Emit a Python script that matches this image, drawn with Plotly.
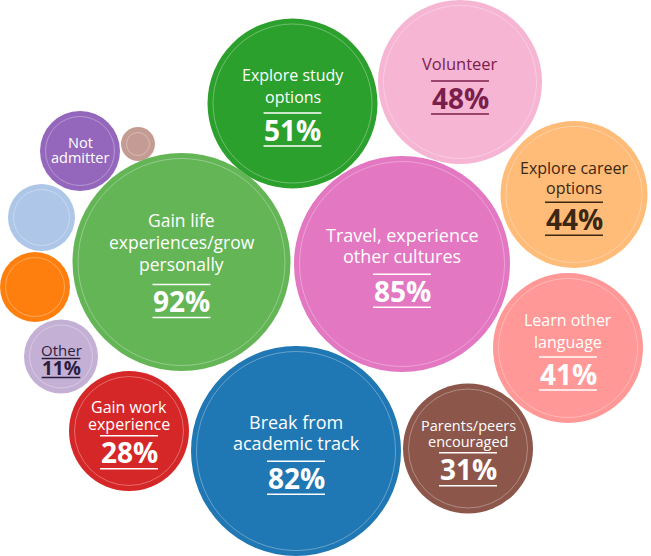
import plotly.graph_objects as go

# ---- data ----
labels = ["Explore study<br>options", "Volunteer", "Not<br>admitter", "",
          "Gain life<br>experiences/grow<br>personally",
          "Travel, experience<br>other cultures", "Explore career<br>options",
          "", "", "Other", "Learn other<br>language", "Gain work<br>experience",
          "Break from<br>academic track", "Parents/peers<br>encouraged"]
values = [51, 48, None, None, 92, 85, 44, None, None, 11, 41, 28, 82, 31]

# ---- bubble layout (pixel space) ----
bx = [292.5, 460, 80, 138, 181.5, 402, 574, 41.5, 35, 61, 568, 129, 296, 468]
by = [103.5, 82, 151, 144, 262, 264, 194.5, 217.5, 287, 356.5, 348, 431, 451, 448.5]
br = [85, 82, 40, 17, 109, 108, 73.5, 33.5, 35, 37, 75, 60, 105, 65]

# ---- styles ----
fills = ["#2ca02c", "#f6b5d3", "#9467bd", "#c49c94", "#63b556", "#e377c2", "#ffbb78",
         "#aec7e8", "#ff7f0e", "#c5b0d5", "#ff9896", "#d62728", "#1f77b4", "#8c564b"]
tcol = ["white", "#7a1e4b", "white", "white", "white", "white", "#3b2712",
        "white", "white", "#2b1d3d", "white", "white", "white", "white"]
fs = [16, 16.5, 14.5, 14, 17.5, 18, 16, 14, 14, 15, 16, 16, 18, 14.5]
lh = [22, 22, 15.7, 16, 22, 21.5, 19.7, 16, 16, 16, 22, 16.3, 21.6, 16]
gap = [16, 17, 0, 0, 20, 18, 14.6, 0, 0, 9, 15, 12, 18, 11.7]
pfs = [28, 28, 28, 28, 28, 28, 28, 28, 28, 19, 28, 28, 28, 28]
FONT = "Open Sans"

fig = go.Figure()
fig.add_trace(go.Scatter(
    x=bx, y=by, mode="markers", hoverinfo="skip",
    marker=dict(size=[2 * r for r in br], color=fills, opacity=1,
                line=dict(width=0), sizemode="diameter")))
fig.add_trace(go.Scatter(
    x=bx, y=by, mode="markers", hoverinfo="skip",
    marker=dict(size=[2 * r - 11 for r in br], color="rgba(0,0,0,0)",
                line=dict(width=1, color="rgba(255,255,255,0.45)"))))

annotations = []
shapes = []
for i in range(len(bx)):
    lines = labels[i].split("<br>") if labels[i] else []
    v = values[i]
    if not lines and v is None:
        continue
    nl = len(lines)
    pg = pfs[i] * 0.59 if pfs[i] >= 28 else pfs[i] * 0.5
    if v is not None:
        total = (nl - 1) * lh[i] + gap[i] + 2 * pg
        y0 = by[i] + 7 - total / 2
    else:
        total = (nl - 1) * lh[i]
        y0 = by[i] - 1 - total / 2
    for k, t in enumerate(lines):
        annotations.append(dict(x=bx[i], y=y0 + k * lh[i], text=t, showarrow=False,
                                xanchor="center", yanchor="middle",
                                font=dict(family=FONT, size=fs[i], color=tcol[i])))
    if v is not None:
        ytop = y0 + (nl - 1) * lh[i] + gap[i]
        ypct = ytop + pg
        ybot = ypct + pg
        hw = pfs[i] * 1.07 - 1
        for yy in (ytop, ybot):
            shapes.append(dict(type="line", xref="x", yref="y",
                               x0=bx[i] - hw, x1=bx[i] + hw, y0=yy, y1=yy,
                               line=dict(color=tcol[i], width=1.5)))
        annotations.append(dict(x=bx[i], y=ypct, text="<b>%d%%</b>" % v, showarrow=False,
                                xanchor="center", yanchor="middle",
                                font=dict(family=FONT, size=pfs[i], color=tcol[i])))

fig.update_layout(
    width=651, height=556, autosize=False,
    margin=dict(l=0, r=0, t=0, b=0),
    paper_bgcolor="white", plot_bgcolor="white",
    showlegend=False,
    xaxis=dict(range=[0, 651], visible=False, fixedrange=True),
    yaxis=dict(range=[556, 0], visible=False, fixedrange=True),
    annotations=annotations, shapes=shapes,
)
fig.write_html("out.html", config={"displayModeBar": False},
               post_script="document.body.style.margin='0';document.body.style.overflow='hidden';")
